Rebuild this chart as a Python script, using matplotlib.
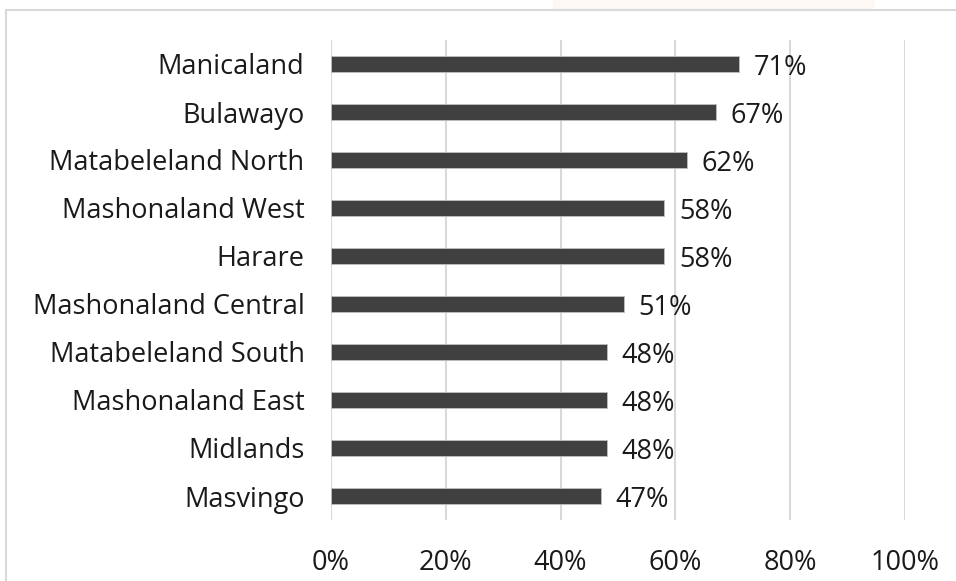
import matplotlib
matplotlib.use("Agg")
import matplotlib.pyplot as plt
from matplotlib.patches import Rectangle

# Datos (de abajo hacia arriba en el gráfico)
regions = ["Masvingo", "Midlands", "Mashonaland East", "Matabeleland South",
           "Mashonaland Central", "Harare", "Mashonaland West",
           "Matabeleland North", "Bulawayo", "Manicaland"]
values = [47, 48, 48, 48, 51, 58, 58, 62, 67, 71]
xticks = [0, 20, 40, 60, 80, 100]

plt.rcParams['font.family'] = ['Open Sans', 'DejaVu Sans']
FS = 19.5
TXT = '#1a1a1a'

W, H = 956, 581
fig = plt.figure(figsize=(W / 100, H / 100), dpi=100)

# marca de agua tenue y marco del gráfico
fig.patches.append(Rectangle((553 / W, 1 - 10 / H), 320 / W, 10 / H,
                             transform=fig.transFigure, color='#fdf8f4', zorder=0))
fig.patches.append(Rectangle((6 / W, -0.05), 1.0, 1 - 10 / H + 0.05,
                             transform=fig.transFigure, fill=False,
                             edgecolor='#d9d9d9', linewidth=1.5, zorder=1))

ax = fig.add_axes([331 / W, 61 / H, 574 / W, 480 / H])
y = range(len(regions))
ax.barh(y, values, height=0.35, color='#404040', edgecolor='#bfbfbf',
        linewidth=0.6, zorder=3)

for yi, v in zip(y, values):
    ax.text(v + 2.6, yi - 0.08, f"{v}%", va='center', ha='left',
            fontsize=FS, color=TXT)

ax.set_xlim(0, 100)
ax.set_ylim(-0.5, len(regions) - 0.5)
ax.set_xticks(xticks)
ax.set_xticklabels([f"{t}%" for t in xticks], fontsize=FS, color=TXT)
ax.set_yticks(list(y))
ax.set_yticklabels(regions, fontsize=FS, color=TXT)
ax.tick_params(axis='x', length=0, pad=21)
ax.tick_params(axis='y', length=0, pad=19)
ax.grid(axis='x', color='#d9d9d9', linewidth=1.5, zorder=0)
for s in ax.spines.values():
    s.set_visible(False)

fig.savefig("out.png", dpi=100)
